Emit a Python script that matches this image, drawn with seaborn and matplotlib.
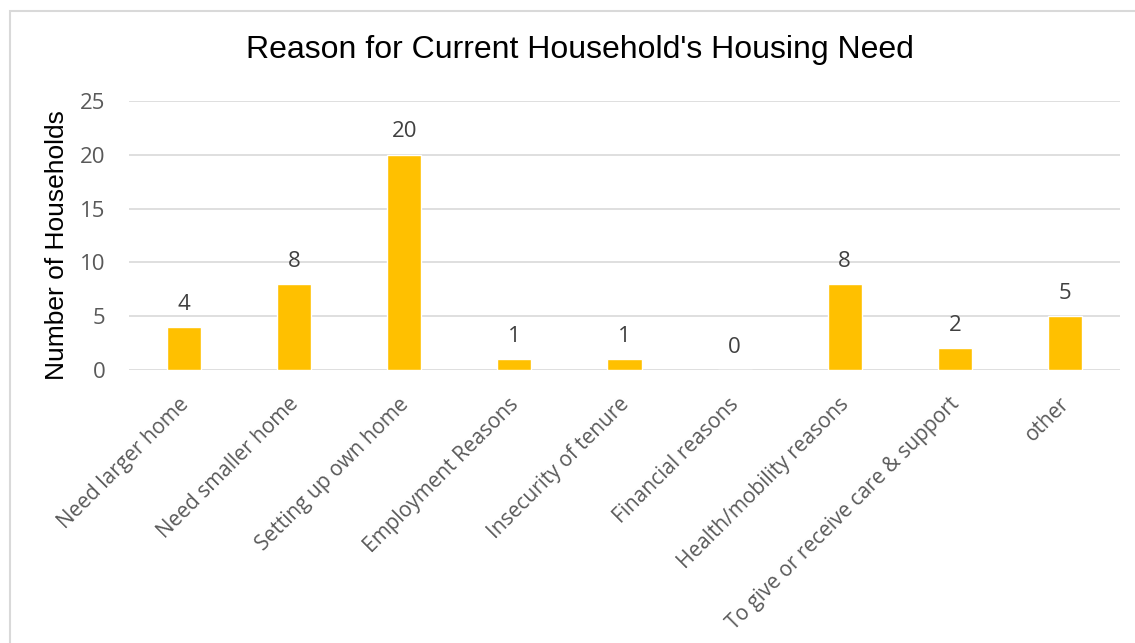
import matplotlib
matplotlib.use("Agg")
import matplotlib.pyplot as plt
import matplotlib.transforms as mtransforms
import seaborn as sns
import pandas as pd
from matplotlib.patches import Rectangle

categories = [
    "Need larger home",
    "Need smaller home",
    "Setting up own home",
    "Employment Reasons",
    "Insecurity of tenure",
    "Financial reasons",
    "Health/mobility reasons",
    "To give or receive care & support",
    "other",
]
households = [4, 8, 20, 1, 1, 0, 8, 2, 5]
y_ticks = [0, 5, 10, 15, 20, 25]

df = pd.DataFrame({"reason": categories, "count": households})

sns.set_theme(style="white")
plt.rcParams["font.family"] = ["Open Sans", "DejaVu Sans"]

W, H = 1135, 643
fig = plt.figure(figsize=(W / 100, H / 100), dpi=100)
fig.patch.set_facecolor("white")

# outer chart frame
fig.patches.append(Rectangle((10 / W, -0.1), 1.2, 1 - 11 / H + 0.1,
                             transform=fig.transFigure, fill=False,
                             edgecolor="#d9d9d9", linewidth=1.5))

left, right, top, bottom = 129, 1120, 101, 370
ax = fig.add_axes([left / W, 1 - bottom / H, (right - left) / W, (bottom - top) / H])

sns.barplot(data=df, x="reason", y="count", color="#FFC000", width=0.31,
            saturation=1, ax=ax, zorder=3)

ax.set_ylim(0, 25)
ax.set_xlim(-0.5, len(categories) - 0.5)
ax.set_yticks(y_ticks)
ax.set_yticklabels([str(t) for t in y_ticks], color="#595959", fontsize=16)
ax.yaxis.grid(True, color="#d9d9d9", linewidth=1.2, zorder=0)
ax.xaxis.grid(False)
for s in ax.spines.values():
    s.set_visible(False)
ax.tick_params(axis="both", length=0)
ax.tick_params(axis="y", pad=17)

ax.set_xticks(range(len(categories)))
ax.set_xticklabels(categories, rotation=45, ha="right", rotation_mode="anchor",
                   color="#595959", fontsize=15)
ax.tick_params(axis="x", pad=17)
shift = mtransforms.ScaledTranslation(-6 / 100, 0, fig.dpi_scale_trans)
for lbl in ax.get_xticklabels():
    lbl.set_transform(lbl.get_transform() + shift)

for i, v in enumerate(households):
    ax.annotate(str(v), (i, v), xytext=(0, 12.5), textcoords="offset points",
                ha="center", va="baseline", color="#404040", fontsize=16)

ax.set_xlabel("")
ax.set_ylabel("Number of Households", family=["Liberation Sans", "DejaVu Sans"],
              fontsize=19, color="black")
ax.yaxis.set_label_coords((69 - left) / (right - left), (bottom - 245) / (bottom - top))

fig.text(580 / W, 1 - 50 / H, "Reason for Current Household's Housing Need",
         family=["Liberation Sans", "DejaVu Sans"], fontsize=23, color="black",
         ha="center", va="center")

fig.savefig("out.png", dpi=100)
